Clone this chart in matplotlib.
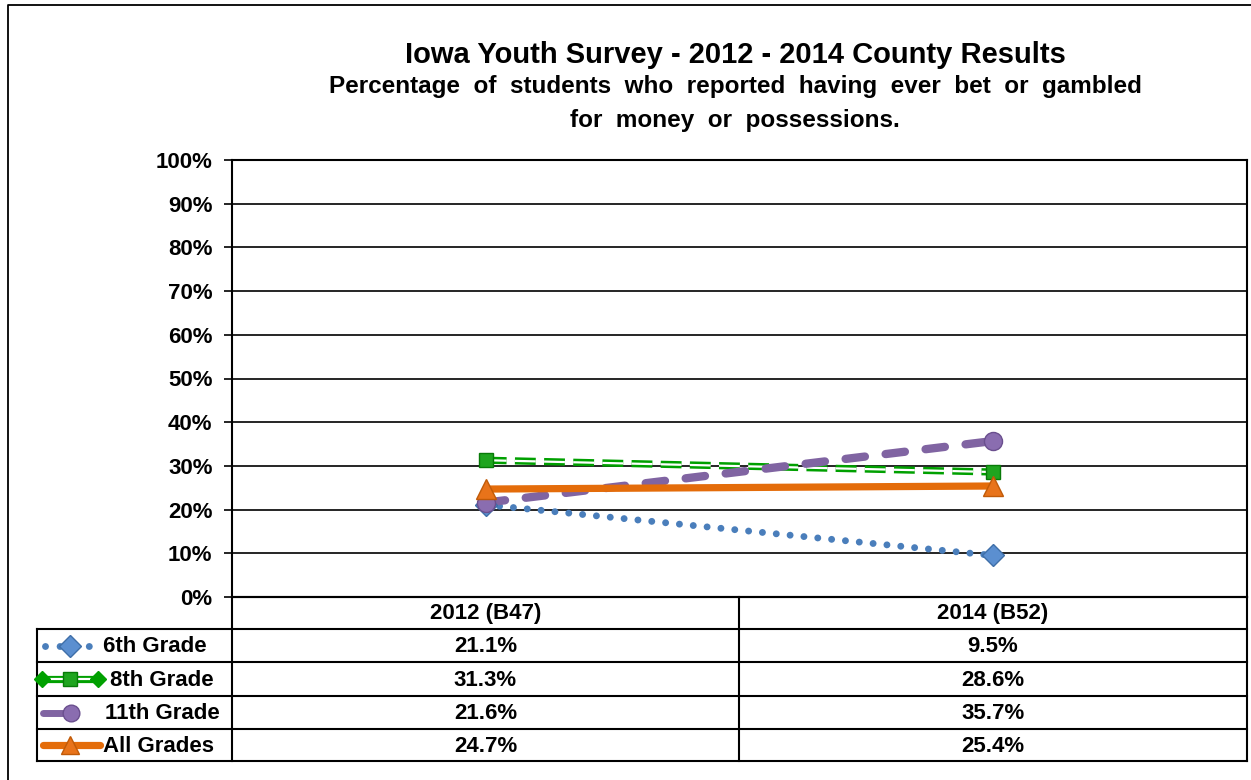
import matplotlib
matplotlib.use('Agg')
import matplotlib.pyplot as plt
from matplotlib import font_manager
from matplotlib.lines import Line2D

# data
years = ['2012 (B47)', '2014 (B52)']
grades = ['6th Grade', '8th Grade', '11th Grade', 'All Grades']
grade6 = [21.1, 9.5]
grade8 = [31.3, 28.6]
grade11 = [21.6, 35.7]
all_grades = [24.7, 25.4]
yticks = list(range(0, 101, 10))

series = [grade6, grade8, grade11, all_grades]

installed = {f.name for f in font_manager.fontManager.ttflist}
base_font = 'Liberation Sans' if 'Liberation Sans' in installed else 'DejaVu Sans'
plt.rcParams['font.family'] = [base_font, 'DejaVu Sans']
plt.rcParams['lines.scale_dashes'] = False

blue = '#4A7EBB'
green = '#00A000'
purple = '#8064A2'
orange = '#E46C0A'

W, H = 1251, 780
fig = plt.figure(figsize=(W / 100, H / 100), dpi=100)


def fx(px):
    return px / W


def fy(py):
    return 1 - py / H


# main plot area
L, R, T, B = 232, 1247, 160, 597
ax = fig.add_axes([fx(L), fy(B), fx(R) - fx(L), fy(T) - fy(B)])
xs = list(range(len(years)))
ax.set_xlim(-0.5, len(years) - 0.5)
ax.set_ylim(0, 100)
ax.set_yticks(yticks)
ax.set_yticklabels([f'{v}%' for v in yticks], fontsize=16, fontweight='bold')
ax.set_xticks([])
ax.tick_params(axis='y', length=6, width=1.2, pad=8)
for s in ax.spines.values():
    s.set_linewidth(1.5)
ax.grid(axis='y', color='black', linewidth=1.2)
ax.set_axisbelow(True)

dots = (0, (0.01, 10))
double_dash = (0, (15, 6))
long_dash = (0, (14, 15))

# 6th grade: round dots
ax.plot(xs, grade6, color=blue, lw=5, linestyle=dots,
        dash_capstyle='round', zorder=3)
ax.plot(xs, grade6, linestyle='none', marker='D', ms=11, color='#5B8FD0',
        markeredgecolor='#3F6FA8', zorder=6)

# 8th grade: double dashed line
ax.plot(xs, grade8, color=green, lw=5.2, linestyle=double_dash, zorder=3)
ax.plot(xs, grade8, color='white', lw=1.6, linestyle=double_dash, zorder=3)
ax.plot(xs, grade8, linestyle='none', marker='s', ms=10, color='#1FA51F',
        markeredgecolor='#087A08', zorder=6)

# 11th grade: long dashes
ax.plot(xs, grade11, color=purple, lw=6, linestyle=long_dash,
        dash_capstyle='round', zorder=4)
ax.plot(xs, grade11, linestyle='none', marker='o', ms=13, color='#8A6DB0',
        markeredgecolor='#6A4F8E', zorder=6)

# all grades: solid
ax.plot(xs, all_grades, color=orange, lw=5.2, solid_capstyle='butt', zorder=5)
ax.plot(xs, all_grades, linestyle='none', marker='^', ms=14, color='#E8731A',
        markeredgecolor='#C05A08', zorder=7)

# overlay in pixel space for title, frame and data table
ov = fig.add_axes([0, 0, 1, 1], facecolor='none')
ov.set_xlim(0, W)
ov.set_ylim(H, 0)
ov.axis('off')

# outer chart frame
ov.plot([8, 8, W + 5], [H + 5, 5, 5], color='black', lw=1.3)

ov.text(735, 55, 'Iowa Youth Survey - 2012 - 2014 County Results', ha='center',
        va='center', fontsize=21, fontweight='bold')
ov.text(735, 87, 'Percentage  of  students  who  reported  having  ever  bet  or  gambled',
        ha='center', va='center', fontsize=17.5, fontweight='bold')
ov.text(735, 121, 'for  money  or  possessions.', ha='center', va='center',
        fontsize=17.5, fontweight='bold')

# table
row_edges = [597, 629, 662, 696, 729, 761]
tl, tm = 37, 739
lw_t = 1.5
for i, yy in enumerate(row_edges):
    x0 = L if i == 0 else tl
    ov.plot([x0, R], [yy, yy], color='black', lw=lw_t, zorder=2)
ov.plot([tl, tl], [row_edges[1], row_edges[-1]], color='black', lw=lw_t)
ov.plot([L, L], [row_edges[0], row_edges[-1]], color='black', lw=lw_t)
ov.plot([tm, tm], [row_edges[0], row_edges[-1]], color='black', lw=lw_t)
ov.plot([R, R], [row_edges[0], row_edges[-1]], color='black', lw=lw_t)

col_centers = [(L + tm) / 2, (tm + R) / 2]
hy = (row_edges[0] + row_edges[1]) / 2
for cx, yr in zip(col_centers, years):
    ov.text(cx, hy + 1, yr, ha='center', va='center', fontsize=16, fontweight='bold')

for r, (name, vals) in enumerate(zip(grades, series)):
    cy = (row_edges[r + 1] + row_edges[r + 2]) / 2
    for cx, v in zip(col_centers, vals):
        ov.text(cx, cy + 1, f'{v:.1f}%', ha='center', va='center', fontsize=16,
                fontweight='bold')

# legend keys in the table's first column
centers = [(row_edges[r + 1] + row_edges[r + 2]) / 2 for r in range(4)]
c = centers[0]
ov.add_line(Line2D([45, 94], [c, c], color=blue, lw=5, linestyle=(0, (0.01, 10.5)),
                   dash_capstyle='round'))
ov.plot([70], [c], marker='D', ms=11, color='#5B8FD0', markeredgecolor='#3F6FA8')
ov.text(103, c + 1, grades[0], ha='left', va='center', fontsize=16, fontweight='bold')

c = centers[1]
ov.plot([42, 99], [c, c], color=green, lw=5.2)
ov.plot([48, 93], [c, c], color='white', lw=1.6)
ov.plot([42, 98], [c, c], linestyle='none', marker='D', ms=8, color=green)
ov.plot([70], [c], marker='s', ms=10, color='#1FA51F', markeredgecolor='#087A08')
ov.text(110, c + 1, grades[1], ha='left', va='center', fontsize=16, fontweight='bold')

c = centers[2]
ov.plot([43, 70], [c, c], color=purple, lw=5, solid_capstyle='round')
ov.plot([71], [c], marker='o', ms=12, color='#8A6DB0', markeredgecolor='#6A4F8E')
ov.text(105, c + 1, grades[2], ha='left', va='center', fontsize=16, fontweight='bold')

c = centers[3]
ov.plot([43, 100], [c, c], color=orange, lw=5.2, solid_capstyle='round')
ov.plot([70], [c], marker='^', ms=13, color='#E8731A', markeredgecolor='#C05A08')
ov.text(103, c + 1, grades[3], ha='left', va='center', fontsize=16, fontweight='bold')

fig.savefig('out.png', dpi=100, facecolor='white')
